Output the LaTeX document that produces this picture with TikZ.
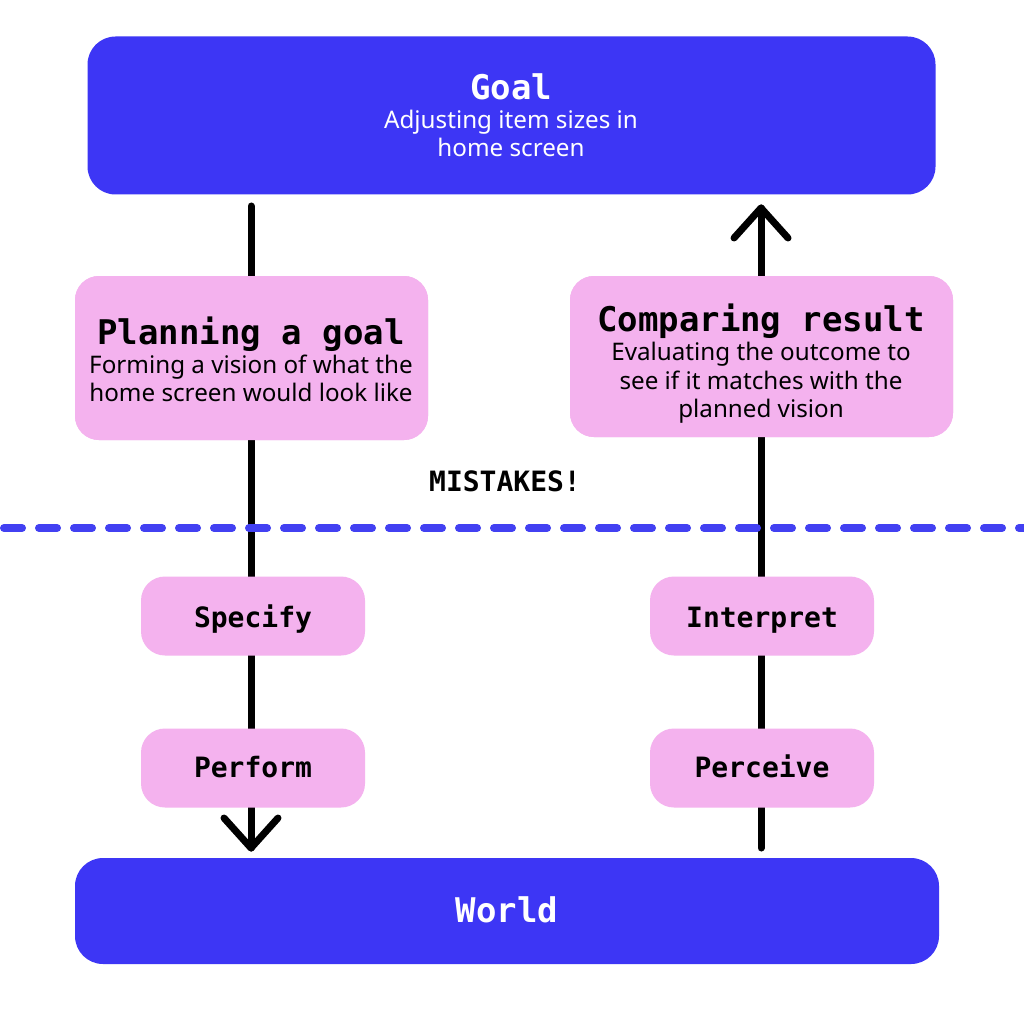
\documentclass[tikz,border=0pt]{standalone}
\usepackage{fontspec}
\setmainfont{Noto Sans}
\newfontfamily\monofont{DejaVu Sans Mono}
\usetikzlibrary{calc}
\definecolor{blu}{HTML}{3D36F5}
\definecolor{dashblu}{HTML}{4240F2}
\definecolor{pnk}{HTML}{F4B2EE}
\begin{document}
\begin{tikzpicture}[x=1pt,y=-1pt,
  bigbox/.style={fill=blu, draw=none, rounded corners=28pt, inner sep=0pt},
  pinkbox/.style={fill=pnk, draw=none, rounded corners=24pt, inner sep=0pt},
  title/.style={font=\monofont\bfseries\fontsize{34}{34}\selectfont, anchor=base, inner sep=0pt},
  small/.style={font=\monofont\bfseries\fontsize{28}{28}\selectfont, anchor=base, inner sep=0pt},
  body/.style={font=\fontsize{24.2}{24.2}\selectfont, anchor=base, inner sep=0pt},
  flow/.style={line width=7pt, line cap=round, line join=round, draw=black}
]
\useasboundingbox (0,0) rectangle (1024,1024);
\fill[white] (0,0) rectangle (1024,1024);

% boxes
\node[bigbox, minimum width=848pt, minimum height=158pt] (goal) at (511.5,115.5) {};
\node[bigbox, minimum width=864pt, minimum height=106pt] (world) at (507,911) {};
\node[pinkbox, minimum width=353pt, minimum height=164pt] (plan) at (251.5,358) {};
\node[pinkbox, minimum width=383pt, minimum height=161pt] (comp) at (761.5,356.5) {};

% flow lines (drawn behind small boxes)
\coordinate (ls) at (251,206);
\coordinate (le) at (251,848);
\coordinate (rs) at (761,848);
\coordinate (re) at (761,208);
\draw[flow] (ls) -- (le);
\draw[flow] ($(le)+(-27,-30)$) -- (le) -- ($(le)+(27,-30)$);
\draw[flow] (rs) -- (re);
\draw[flow] ($(re)+(-27,30)$) -- (re) -- ($(re)+(27,30)$);

% redraw pink boxes on top of lines
\node[pinkbox, minimum width=353pt, minimum height=164pt] at (plan.center) {};
\node[pinkbox, minimum width=383pt, minimum height=161pt] at (comp.center) {};
\node[pinkbox, minimum width=224pt, minimum height=79pt] (spec) at (253,616) {};
\node[pinkbox, minimum width=224pt, minimum height=79pt] (perf) at (253,768) {};
\node[pinkbox, minimum width=224pt, minimum height=79pt] (interp) at (762,616) {};
\node[pinkbox, minimum width=224pt, minimum height=79pt] (perc) at (762,768) {};

% dashed divider
\coordinate (dl) at (0,528);
\coordinate (dr) at (1024,528);
\draw[dashblu, line width=8pt, line cap=round, dash pattern=on 18pt off 17pt, dash phase=-4pt] (dl) -- (dr);

% texts
\node[title, text=white] (goalt) at (511,100) {Goal};
\node[body, text=white] (goal1) at (511,129) {Adjusting item sizes in};
\node[body, text=white] (goal2) at (511,157) {home screen};

\node[title] (plant) at (251,344) {Planning a goal};
\node[body] (plan1) at (251,373) {Forming a vision of what the};
\node[body] (plan2) at (251,401.5) {home screen would look like};

\node[title] (compt) at (761,331) {Comparing result};
\node[body] (comp1) at (761,360.5) {Evaluating the outcome to};
\node[body] (comp2) at (761,389) {see if it matches with the};
\node[body] (comp3) at (761,417) {planned vision};

\node[small] (mist) at (505,491) {MISTAKES!};

\node[small] (spect) at (253,627) {Specify};
\node[small] (perft) at (253,777) {Perform};
\node[small] (interpt) at (762,627) {Interpret};
\node[small] (perct) at (762,777) {Perceive};

\node[title, text=white] (worldt) at (507,922.5) {World};
\end{tikzpicture}
\end{document}
